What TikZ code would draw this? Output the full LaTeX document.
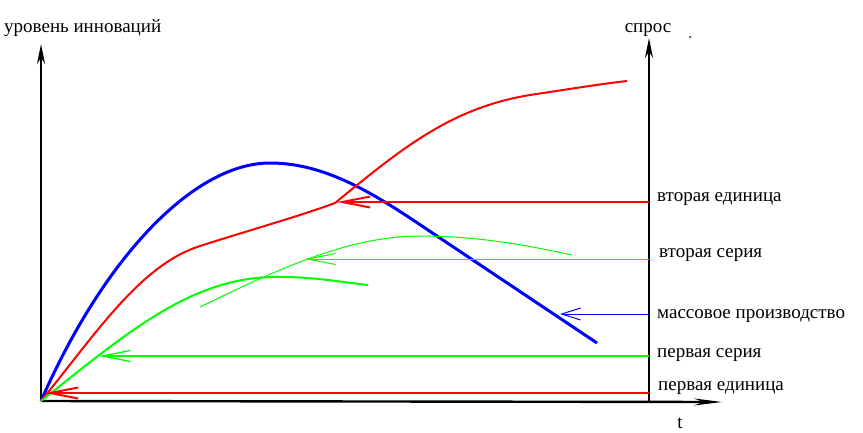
\documentclass[tikz,border=0pt]{standalone}
\usepackage{fontspec}
\setmainfont{Liberation Serif}
\usetikzlibrary{arrows.meta}
\definecolor{rd}{RGB}{255,0,0}
\definecolor{gr}{RGB}{0,255,0}
\definecolor{bl}{RGB}{0,0,255}
\tikzset{
  axis/.style={line width=2.4pt,black,-{Stealth[length=20pt,width=8pt]}},
  txt/.style={font=\fontsize{19}{19}\selectfont,inner sep=0pt},
  lbl/.style={txt,anchor=base west},
  barb/.style={{Straight Barb[length=28pt,width=11pt]}-},
}
\begin{document}
\begin{tikzpicture}[x=1pt,y=-1pt]
\useasboundingbox (0,0) rectangle (863,432);
% axes
\coordinate (O) at (41,401);
\coordinate (Ytop) at (41,44);
\coordinate (Sbase) at (649,401);
\coordinate (Stop) at (649,38);
\coordinate (Xend) at (722,402);
\draw[axis] (O) -- (Ytop);
\draw[axis] (Sbase) -- (Stop);
\draw[axis,-{Stealth[length=28pt,width=7pt]}] (O) -- (Xend);
\node[txt,anchor=base west] (ylab) at (4,32) {уровень инноваций};
\node[txt,anchor=base] (slab) at (648,32) {спрос};
\node[txt,anchor=base] (tlab) at (680,428) {t};
\fill (690,37) circle (1pt);
% curves
\draw[bl,line width=3pt] (O) .. controls (105,255) and (195,163) .. (270,163)
  .. controls (320,163) and (365,188) .. (413,220) -- (597,343);
\draw[rd,line width=2pt] (O) .. controls (95,335) and (140,265) .. (200,246)
  .. controls (250,230) and (300,216) .. (335,203)
  .. controls (400,150) and (450,108) .. (530,95)
  .. controls (570,89) and (600,84) .. (627,81);
\draw[gr,line width=2pt] (O) .. controls (130,330) and (190,280) .. (270,277)
  .. controls (310,276) and (340,282) .. (368,285);
\draw[gr,line width=1pt] (200,307) .. controls (280,268) and (350,236) .. (420,236)
  .. controls (480,236) and (530,246) .. (572,255);
% arrows from the right axis
\coordinate (t1) at (45,393); \coordinate (e1) at (649,393);
\coordinate (t2) at (99,356); \coordinate (e2) at (649,356);
\coordinate (t3) at (560,314); \coordinate (e3) at (649,314);
\coordinate (t4) at (305,259); \coordinate (e4) at (649,259);
\coordinate (t5) at (337,202); \coordinate (e5) at (649,202);
\draw[rd,line width=2pt,barb] (t1) -- (e1);
\draw[gr,line width=1.3pt,barb] (t2) -- (e2);
\draw[bl,line width=1pt,{Straight Barb[length=19pt,width=12pt]}-] (t3) -- (e3);
\draw[gr,line width=1pt,barb] (t4) -- (e4);
\draw[rd,line width=2pt,barb] (t5) -- (e5);
% labels
\node[lbl] (l5) at (657,201) {вторая единица};
\node[lbl] (l4) at (659,257) {вторая серия};
\node[lbl] (l3) at (657,318) {массовое производство};
\node[lbl] (l2) at (657,357) {первая серия};
\node[lbl] (l1) at (658,390) {первая единица};
\end{tikzpicture}
\end{document}
